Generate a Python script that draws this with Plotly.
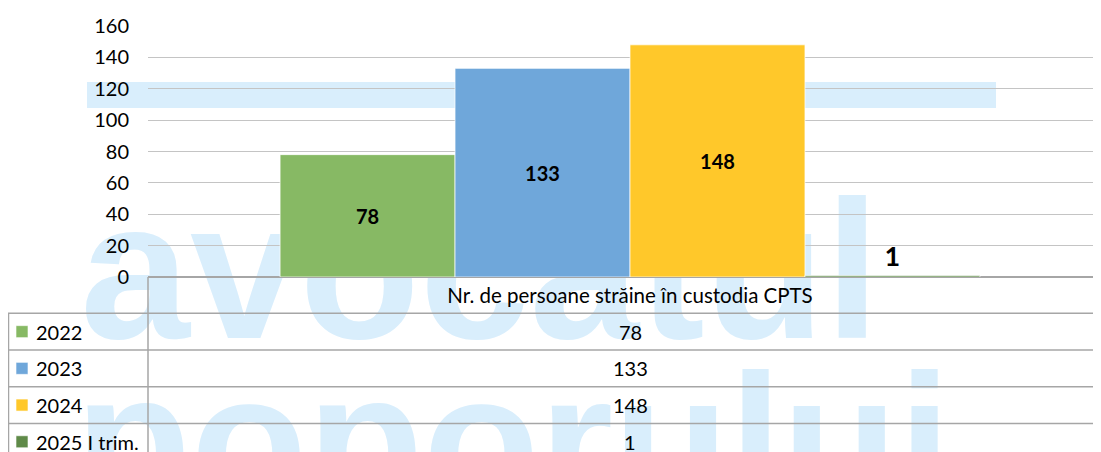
import plotly.graph_objects as go

# ---- data ----
category = ["Nr. de persoane străine în custodia CPTS"]
series_names = ["2022", "2023", "2024", "2025 I trim."]
series_values = [78, 133, 148, 1]
series_colors = ["#87B964", "#6FA7DA", "#FFC82A", "#5F8A48"]
y_ticks = [0, 20, 40, 60, 80, 100, 120, 140, 160]

FONT = "Lato"
OFF = 8  # page body margin
W, H = 1101 - OFF, 452 - OFF
L, R, T = 148 - OFF, 0, 26 - OFF
B = H - (277 - OFF)
PW, PH = W - L - R, H - T - B


def X(px):
    return (px - OFF - L) / PW


def Y(py):
    return (T + PH - (py - OFF)) / PH


fig = go.Figure()
for i, (name, val, col) in enumerate(zip(series_names, series_values, series_colors)):
    small = val < 10
    fig.add_trace(go.Bar(
        x=category, y=[val], name=name,
        marker=dict(color=col, line=dict(color="rgba(255,255,255,0.7)", width=1)),
        text=[str(val)],
        textposition="outside" if small else "inside",
        insidetextanchor="middle",
        textfont=dict(family=FONT, size=27 if small else 20, color="#000000", weight="bold"),
        showlegend=False,
        cliponaxis=False,
    ))

shapes = []
annotations = []
wm = "#d9eefc"
# watermark
shapes.append(dict(type="rect", xref="paper", yref="paper", layer="below",
                   x0=X(87), x1=X(996), y0=Y(108), y1=Y(82),
                   fillcolor=wm, line=dict(width=0)))
for txt, cx, cy, fs in [("avocatul", 480, 251, 197), ("poporului", 513, 422, 190)]:
    shapes.append(dict(type="rect", xref="paper", yref="paper", layer="below",
                       x0=X(cx - 50), x1=X(cx + 50), y0=Y(cy + 20), y1=Y(cy - 20),
                       fillcolor="rgba(0,0,0,0)", line=dict(width=0),
                       label=dict(text=txt, textposition="middle center",
                                  font=dict(family="Liberation Sans", size=fs, color=wm, weight="bold"))))

grey = "#a6a6a6"
# table lines
shapes.append(dict(type="line", xref="paper", yref="paper", x0=X(148), x1=X(148), y0=Y(277), y1=Y(460),
                   line=dict(color=grey, width=1.5)))
shapes.append(dict(type="line", xref="paper", yref="paper", x0=X(8.5), x1=X(8.5), y0=Y(313.3), y1=Y(460),
                   line=dict(color=grey, width=1.5)))
row_top = 313.3
row_h = 36.7
for i in range(len(series_names)):
    yl = row_top + i * row_h
    shapes.append(dict(type="line", xref="paper", yref="paper", x0=X(8), x1=1, y0=Y(yl), y1=Y(yl),
                       line=dict(color=grey, width=1.5)))
    yc = yl + row_h / 2
    shapes.append(dict(type="rect", xref="paper", yref="paper",
                       x0=X(16), x1=X(28), y0=Y(yc + 6), y1=Y(yc - 6),
                       fillcolor=series_colors[i], line=dict(color="rgba(255,255,255,0.6)", width=1)))
    annotations.append(dict(xref="paper", yref="paper", x=X(34), y=Y(yc), xanchor="left", yanchor="middle",
                            text=series_names[i], showarrow=False,
                            font=dict(family=FONT, size=20, color="#000000")))
    annotations.append(dict(xref="x", yref="paper", x=category[0], y=Y(yc), xanchor="center", yanchor="middle",
                            text=str(series_values[i]), showarrow=False,
                            font=dict(family=FONT, size=20, color="#000000")))

fig.update_layout(
    width=W, height=H,
    margin=dict(l=L, r=R, t=T, b=B, pad=0),
    paper_bgcolor="white", plot_bgcolor="rgba(0,0,0,0)",
    barmode="group", bargap=0.274, bargroupgap=0,
    shapes=shapes, annotations=annotations,
    font=dict(family=FONT, size=20, color="#000000"),
)
fig.update_xaxes(range=[-0.5, -0.5 + PW / 964], showgrid=False, showline=False, zeroline=False,
                 ticks="", tickfont=dict(family=FONT, size=20.5, color="#000000"), ticklabelstandoff=4)
fig.update_yaxes(range=[0, 160], tickvals=y_ticks, showgrid=True, gridcolor="#c4c4c4", gridwidth=1,
                 zeroline=True, zerolinecolor=grey, zerolinewidth=1.5, showline=False,
                 tickfont=dict(family=FONT, size=20, color="#000000"), ticklabelstandoff=18)

fig.write_html("out.html")
